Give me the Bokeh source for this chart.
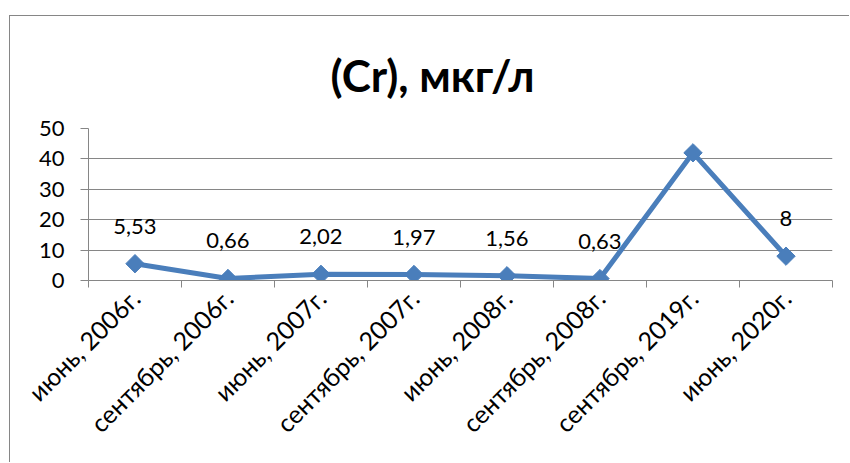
import numpy as np
from bokeh.plotting import figure
from bokeh.models import ColumnDataSource, FixedTicker, LabelSet, Range1d
from bokeh.core.properties import value
from bokeh.embed import file_html
from bokeh.resources import INLINE

categories = ["июнь, 2006г.", "сентябрь, 2006г.", "июнь, 2007г.", "сентябрь, 2007г.",
              "июнь, 2008г.", "сентябрь, 2008г.", "сентябрь, 2019г.", "июнь, 2020г."]
values = [5.53, 0.66, 2.02, 1.97, 1.56, 0.63, 42, 8]
value_labels = ["5,53", "0,66", "2,02", "1,97", "1,56", "0,63", "42", "8"]
y_ticks = [0, 10, 20, 30, 40, 50]
title_text = "(Cr), мкг/л"

FONT = "Lato"
BLUE = "#4A7EBB"
GRAY = "#868686"

xs = [i + 0.5 for i in range(len(categories))]
src = ColumnDataSource(dict(x=xs, y=values, lab=value_labels))

p = figure(width=840, height=447, output_backend="svg", toolbar_location=None,
           x_range=Range1d(0, len(categories)), y_range=Range1d(0, 50),
           title=title_text)
p.margin = (15, 0, 0, 9)
p.styles = {"border-left": "1px solid #868686", "border-top": "1px solid #868686"}
p.min_border_left = 78
p.min_border_right = 18
p.min_border_top = 112
p.min_border_bottom = 183
p.outline_line_color = None
p.background_fill_color = "white"
p.border_fill_color = "white"

p.title.align = "left"
p.title.text_font = FONT
p.title.text_font_size = "44px"
p.title.text_font_style = "bold"
p.title.text_color = "black"
p.title.standoff = 55
p.title.offset = 242

p.line("x", "y", source=src, line_color=BLUE, line_width=5)
p.scatter("x", "y", source=src, marker="square", size=13, angle=np.pi / 4,
          fill_color=BLUE, line_color=BLUE)

labels = LabelSet(x="x", y="y", text="lab", source=src, y_offset=30,
                  text_align="center", text_baseline="alphabetic",
                  text_font=value(FONT), text_font_size=value("22px"),
                  text_color="black")
p.add_layout(labels)

# y axis
p.yaxis.ticker = FixedTicker(ticks=y_ticks)
p.yaxis.axis_line_color = GRAY
p.yaxis.major_tick_line_color = GRAY
p.yaxis.major_tick_out = 8
p.yaxis.major_tick_in = 0
p.yaxis.minor_tick_line_color = None
p.yaxis.major_label_text_font = FONT
p.yaxis.major_label_text_font_size = "22px"
p.yaxis.major_label_text_color = "black"
p.yaxis.major_label_standoff = 16

# x axis
p.xaxis.ticker = FixedTicker(ticks=xs, minor_ticks=list(range(len(categories) + 1)))
p.xaxis.major_label_overrides = {x: c for x, c in zip(xs, categories)}
p.xaxis.axis_line_color = GRAY
p.xaxis.major_tick_line_color = None
p.xaxis.major_tick_out = 7
p.xaxis.major_tick_in = 0
p.xaxis.minor_tick_line_color = GRAY
p.xaxis.minor_tick_out = 7
p.xaxis.minor_tick_in = 0
p.xaxis.major_label_orientation = np.pi / 4
p.xaxis.major_label_text_font = FONT
p.xaxis.major_label_text_font_size = "25px"
p.xaxis.major_label_text_color = "black"
p.xaxis.major_label_standoff = 6

p.xgrid.visible = False
p.ygrid.ticker = FixedTicker(ticks=y_ticks)
p.ygrid.grid_line_color = GRAY
p.ygrid.grid_line_width = 1

open("out.html", "w").write(file_html(p, INLINE))
